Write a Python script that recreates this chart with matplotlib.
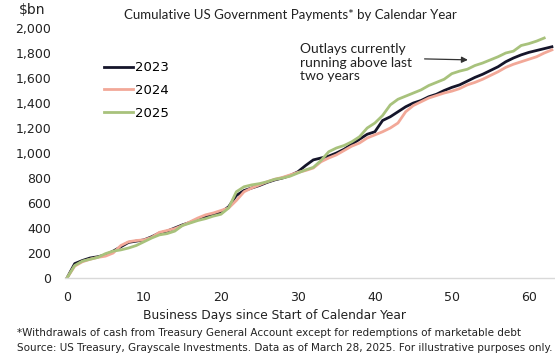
import matplotlib.pyplot as plt

# cumulative payments, $bn, by business day since start of year
days_2023 = list(range(0, 64))
pay_2023 = [0, 115, 140, 160, 170, 185, 215, 250, 285, 295,
            305, 330, 360, 375, 400, 425, 445, 470, 490, 505,
            525, 570, 660, 700, 720, 740, 765, 785, 800, 820,
            850, 900, 945, 960, 975, 1000, 1030, 1070, 1110, 1150,
            1170, 1260, 1290, 1330, 1370, 1400, 1420, 1450, 1470, 1500,
            1525, 1545, 1575, 1605, 1630, 1660, 1690, 1730, 1760, 1785,
            1805, 1820, 1835, 1850]

days_2024 = list(range(0, 64))
pay_2024 = [0, 95, 130, 150, 165, 175, 200, 260, 290, 300,
            305, 325, 365, 380, 395, 420, 450, 480, 505, 520,
            540, 560, 620, 690, 720, 745, 770, 790, 805, 825,
            845, 860, 880, 930, 960, 985, 1020, 1055, 1080, 1120,
            1145, 1170, 1200, 1240, 1330, 1380, 1410, 1440, 1460, 1480,
            1495, 1515, 1545, 1565, 1590, 1620, 1650, 1685, 1710, 1730,
            1750, 1770, 1800, 1825]

days_2025 = list(range(0, 63))
pay_2025 = [0, 100, 135, 150, 165, 195, 215, 225, 240, 260,
            290, 320, 345, 355, 375, 420, 440, 460, 475, 495,
            510, 560, 690, 730, 745, 755, 770, 790, 800, 815,
            840, 865, 885, 940, 1010, 1040, 1060, 1090, 1130, 1200,
            1240, 1300, 1385, 1430, 1455, 1480, 1505, 1540, 1565, 1590,
            1635, 1655, 1670, 1700, 1720, 1745, 1770, 1800, 1815, 1860,
            1875, 1895, 1920]

x_ticks = [0, 10, 20, 30, 40, 50, 60]
y_ticks = [0, 200, 400, 600, 800, 1000, 1200, 1400, 1600, 1800, 2000]

fig = plt.figure(figsize=(5.55, 3.61), dpi=100)
ax = fig.add_axes([0.1171, 0.2299, 0.8829, 0.6925])

ax.plot(days_2023, pay_2023, color='#15152a', lw=2.0, label='2023')
ax.plot(days_2024, pay_2024, color='#f2a898', lw=2.0, label='2024')
ax.plot(days_2025, pay_2025, color='#a8c27c', lw=2.0, label='2025')

ax.set_xlim(-0.26, 63.4)
ax.set_ylim(0, 2000)
ax.set_xticks(x_ticks)
ax.set_yticks(y_ticks)
ax.set_yticklabels([f'{v:,}' for v in y_ticks])
ax.tick_params(length=0, labelsize=9, colors='#222222')
ax.tick_params(axis='y', pad=10)
ax.tick_params(axis='x', pad=9)
for s in ['top', 'right', 'left']:
  ax.spines[s].set_visible(False)
ax.spines['bottom'].set_color('#d9d9d9')
ax.spines['bottom'].set_linewidth(1.0)

# axis title sits left of the axes centre in the original
fig.text(0.494, 0.127, 'Business Days since Start of Calendar Year', ha='center', va='center',
         fontsize=8.8, color='#222222')

leg = ax.legend(loc='upper left', bbox_to_anchor=(0.055, 0.915), frameon=False,
                fontsize=9.5, handlelength=2.2, handletextpad=0.2, labelspacing=0.75)

fig.text(0.524, 0.958, 'Cumulative US Government Payments* by Calendar Year',
         ha='center', va='center', fontsize=9.5, family='Lato', color='#222222')
fig.text(0.058, 0.972, '$bn', ha='center', va='center', fontsize=10, color='#222222')

ax.text(0.54, 0.88, 'Outlays currently\nrunning above last\ntwo years', transform=fig.transFigure,
        ha='left', va='top', fontsize=10, family='Lato', color='#222222', linespacing=1.15)
ax.annotate('', xy=(0.848, 0.834), xytext=(0.760, 0.837), xycoords='figure fraction',
            arrowprops=dict(arrowstyle='-|>', color='#333333', lw=0.9, mutation_scale=9))

fig.text(0.03, 0.078, '*Withdrawals of cash from Treasury General Account except for redemptions of marketable debt',
         ha='left', va='center', fontsize=7.5, color='#222222')
fig.text(0.03, 0.036, 'Source: US Treasury, Grayscale Investments. Data as of March 28, 2025. For illustrative purposes only.',
         ha='left', va='center', fontsize=7.5, color='#222222')

fig.savefig('out.png', dpi=100)
